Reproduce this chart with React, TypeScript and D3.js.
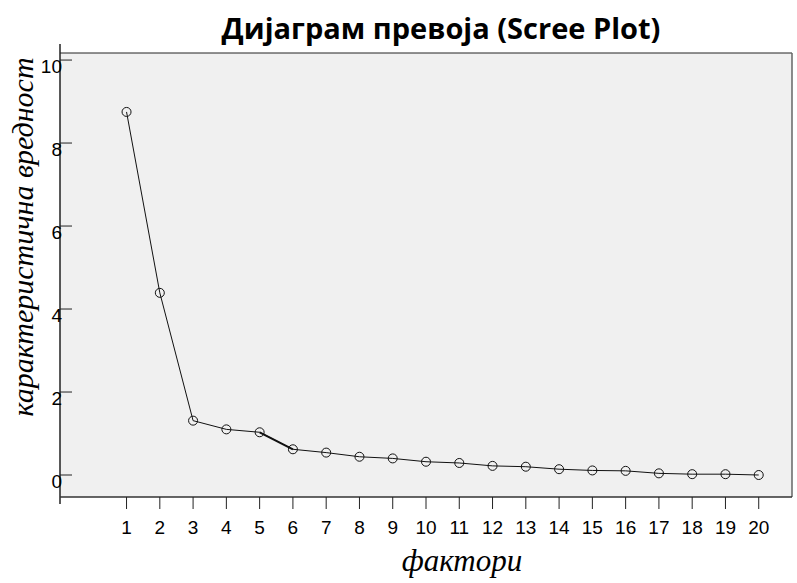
import React, { useEffect, useRef } from 'react';
import * as d3 from 'd3';

const factors = d3.range(1, 21);
const eigenvalues = [8.75, 4.39, 1.31, 1.1, 1.03, 0.62, 0.54, 0.44, 0.4, 0.32, 0.29, 0.22, 0.2, 0.14, 0.11, 0.1, 0.04, 0.02, 0.02, 0.0];
const yTicks = [0, 2, 4, 6, 8, 10];

const title = 'Дијаграм превоја (Scree Plot)';
const xLabel = 'фактори';
const yLabel = 'карактеристична вредност';

const WIDTH = 797;
const HEIGHT = 583;

const App: React.FC = () => {
  const svgRef = useRef<SVGSVGElement>(null);

  useEffect(() => {
    if (!svgRef.current) return;
    const svg = d3.select(svgRef.current);
    svg.selectAll('*').remove();

    const plot = { left: 60, right: 792, top: 53, bottom: 497 };

    const xScale = d3.scaleLinear().domain([-1, 21]).range([plot.left, plot.right]);
    const yScale = d3.scaleLinear().domain([-0.53, 10.17]).range([plot.bottom, plot.top]);

    const sans = '"Liberation Sans", Arial, sans-serif';
    const serif = '"Liberation Serif", "Times New Roman", serif';

    // plot background + frame
    svg.append('rect')
      .attr('x', plot.left)
      .attr('y', plot.top)
      .attr('width', plot.right - plot.left)
      .attr('height', plot.bottom - plot.top)
      .attr('fill', '#f0f0f0');

    svg.append('line')
      .attr('x1', plot.left).attr('x2', plot.right)
      .attr('y1', plot.top).attr('y2', plot.top)
      .attr('stroke', '#222').attr('stroke-width', 1);
    svg.append('line')
      .attr('x1', plot.right).attr('x2', plot.right)
      .attr('y1', plot.top).attr('y2', plot.bottom)
      .attr('stroke', '#666').attr('stroke-width', 1.5);

    // y axis (ticks point inward, labels hang below tick)
    svg.append('line')
      .attr('x1', plot.left).attr('x2', plot.left)
      .attr('y1', 44).attr('y2', 504)
      .attr('stroke', '#222').attr('stroke-width', 1.5);

    const yt = svg.append('g');
    yt.selectAll('line')
      .data(yTicks)
      .enter().append('line')
      .attr('x1', plot.left).attr('x2', plot.left + 12)
      .attr('y1', d => yScale(d)).attr('y2', d => yScale(d))
      .attr('stroke', '#222');
    yt.selectAll('text')
      .data(yTicks)
      .enter().append('text')
      .attr('x', plot.left + 2)
      .attr('y', d => yScale(d) + 13)
      .attr('text-anchor', 'end')
      .style('font-family', sans)
      .style('font-size', '19px')
      .text(d => d);

    // x axis
    svg.append('line')
      .attr('x1', plot.left).attr('x2', plot.right)
      .attr('y1', plot.bottom).attr('y2', plot.bottom)
      .attr('stroke', '#333').attr('stroke-width', 1.5);

    const xt = svg.append('g');
    xt.selectAll('line')
      .data(factors)
      .enter().append('line')
      .attr('x1', d => xScale(d)).attr('x2', d => xScale(d))
      .attr('y1', plot.bottom).attr('y2', plot.bottom + 12)
      .attr('stroke', '#222');
    xt.selectAll('text')
      .data(factors)
      .enter().append('text')
      .attr('x', d => xScale(d))
      .attr('y', 534)
      .attr('text-anchor', 'middle')
      .style('font-family', sans)
      .style('font-size', '19px')
      .text(d => d);

    // line + markers
    const points = factors.map((f, i) => ({ f, v: eigenvalues[i] }));
    const line = d3.line<{ f: number; v: number }>()
      .x(d => xScale(d.f))
      .y(d => yScale(d.v));

    svg.append('path')
      .datum(points)
      .attr('fill', 'none')
      .attr('stroke', '#111')
      .attr('stroke-width', 1)
      .attr('d', line);

    // the 5 -> 6 segment is drawn heavier in the original
    svg.append('path')
      .datum(points.slice(4, 6))
      .attr('fill', 'none')
      .attr('stroke', '#111')
      .attr('stroke-width', 2)
      .attr('d', line);

    svg.selectAll('circle.pt')
      .data(points)
      .enter().append('circle')
      .attr('class', 'pt')
      .attr('cx', d => xScale(d.f))
      .attr('cy', d => yScale(d.v))
      .attr('r', 4.5)
      .attr('fill', 'none')
      .attr('stroke', '#111')
      .attr('stroke-width', 1);

    // titles
    svg.append('text')
      .attr('x', 441)
      .attr('y', 39)
      .attr('text-anchor', 'middle')
      .style('font-family', '"Open Sans", "Noto Sans", sans-serif')
      .style('font-weight', 'bold')
      .style('font-size', '29px')
      .text(title);

    svg.append('text')
      .attr('transform', 'translate(33, 237) rotate(-90)')
      .attr('text-anchor', 'middle')
      .style('font-family', serif)
      .style('font-style', 'italic')
      .style('font-size', '30px')
      .text(yLabel);

    svg.append('text')
      .attr('x', 462)
      .attr('y', 571)
      .attr('text-anchor', 'middle')
      .style('font-family', serif)
      .style('font-style', 'italic')
      .style('font-size', '31px')
      .text(xLabel);
  }, []);

  return (
    <svg
      ref={svgRef}
      width={WIDTH}
      height={HEIGHT}
      style={{ position: 'absolute', left: 0, top: 0, background: '#fff' }}
    />
  );
};

export default App;
